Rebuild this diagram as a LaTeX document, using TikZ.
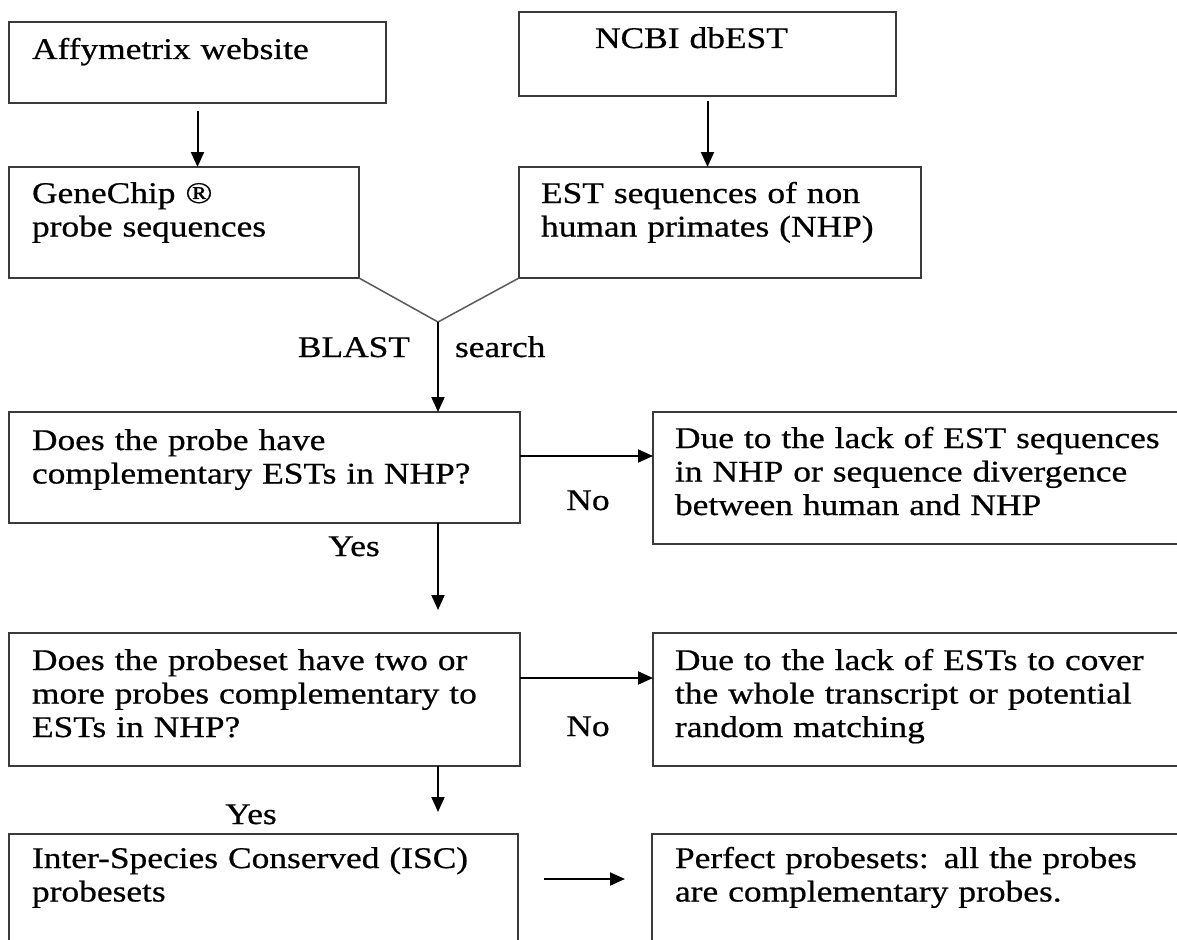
\documentclass[tikz,border=0pt]{standalone}
\usepackage{fontspec}
\setmainfont{Liberation Serif}[FakeStretch=1.18,FakeBold=0.6]
\usetikzlibrary{arrows.meta}
\definecolor{boxc}{HTML}{3A3A3A}
\definecolor{mergec}{HTML}{5A5A5A}
\begin{document}
\begin{tikzpicture}[x=1pt,y=-1pt,
  box/.style={draw=boxc, line width=2pt, inner sep=0pt, outer sep=0pt, anchor=north west},
  txt/.style={font=\fontsize{30}{33.5}\selectfont, inner sep=0pt, outer sep=0pt, anchor=base west, text width=600pt, align=left},
  lbl/.style={font=\fontsize{30}{34}\selectfont, inner sep=0pt, outer sep=0pt},
  arr/.style={line width=2pt, -{Triangle[length=15pt,width=13pt]}},
  merge/.style={line width=1.5pt, draw=mergec}]
\useasboundingbox (0,0) rectangle (1177,939);
\clip (0,0) rectangle (1177,939);
\fill[white] (0,0) rectangle (1177,939);
% boxes
\node[box, minimum width=377pt, minimum height=81pt] (A) at (9,22) {};
\node[box, minimum width=350pt, minimum height=111pt] (B) at (9,167) {};
\node[box, minimum width=377pt, minimum height=84pt] (C) at (519,12) {};
\node[box, minimum width=402pt, minimum height=111pt] (D) at (519,167) {};
\node[box, minimum width=511pt, minimum height=111pt] (E) at (9,412) {};
\node[box, minimum width=560pt, minimum height=132pt] (F) at (653,412) {};
\node[box, minimum width=511pt, minimum height=133pt] (G) at (9,633) {};
\node[box, minimum width=560pt, minimum height=133pt] (K) at (653,633) {};
\node[box, minimum width=509pt, minimum height=140pt] (H) at (9,834) {};
\node[box, minimum width=560pt, minimum height=140pt] (I) at (652,834) {};
% texts
\node[txt] (At) at (32,59) {Affymetrix website};
\node[txt] (Bt) at (32,203) {GeneChip ®\\probe sequences};
\node[txt] (Ct) at (595,48) {NCBI dbEST};
\node[txt] (Dt) at (541,203) {EST sequences of non\\human primates (NHP)};
\node[txt] (Et) at (32,450) {Does the probe have\\complementary ESTs in NHP?};
\node[txt] (Ft) at (675,448) {Due to the lack of EST sequences\\in NHP or sequence divergence\\between human and NHP};
\node[txt] (Gt) at (32,670) {Does the probeset have two or\\more probes complementary to\\ESTs in NHP?};
\node[txt] (Kt) at (675,670) {Due to the lack of ESTs to cover\\the whole transcript or potential\\random matching};
\node[txt] (Ht) at (32,868) {Inter-Species Conserved (ISC)\\probesets};
\node[txt] (It) at (675,868) {Perfect probesets: all the probes\\are complementary probes.};
% labels
\node[lbl, anchor=base east] (blast) at (410,357) {BLAST};
\node[lbl, anchor=base west] (search) at (455,357) {search};
\node[lbl, anchor=base] (no1) at (588,510) {No};
\node[lbl, anchor=base] (no2) at (588,736) {No};
\node[lbl, anchor=base] (yes1) at (354,556) {Yes};
\node[lbl, anchor=base] (yes2) at (251,824) {Yes};
% connectors
\coordinate (M) at (438,322);
\coordinate (e1) at (520,456);
\coordinate (g1) at (520,678);
\coordinate (h1) at (518,879);
\draw[arr, shorten <=8pt] (A.south) -- (A.south |- B.north);
\draw[arr, shorten <=5pt] (C.south) -- (C.south |- D.north);
\draw[merge] (B.south east) -- (M) -- (D.south west);
\draw[arr] (M) -- (M |- E.north);
\draw[arr] (e1) -- (e1 -| F.west);
\draw[arr, shorten >=23pt] (M |- E.south) -- (M |- G.north);
\draw[arr] (g1) -- (g1 -| K.west);
\draw[arr, shorten >=22pt] (M |- G.south) -- (M |- H.north);
\draw[arr, shorten <=26pt, shorten >=27pt] (h1) -- (h1 -| I.west);
\end{tikzpicture}
\end{document}
